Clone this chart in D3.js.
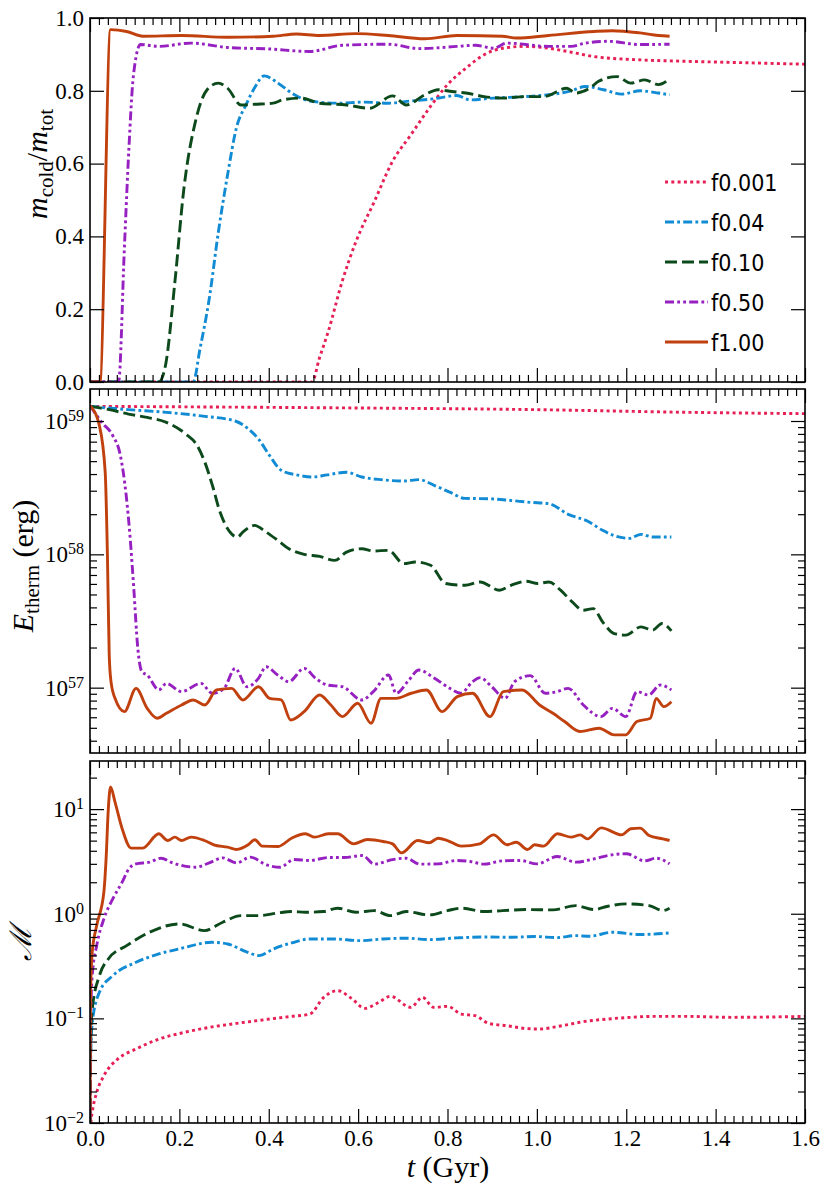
<!DOCTYPE html>
<html>
<head>
<meta charset="utf-8">
<script src="https://cdn.jsdelivr.net/npm/d3@7"></script>
<style>
  body { margin: 0; background: #fff; }
  svg { display: block; }
  .tick text { font-family: 'Liberation Serif', 'Times New Roman', serif; font-size: 23px; fill: #000; }
  .tick line { stroke: #000; stroke-width: 1.2; }
  .axlabel { font-family: 'Liberation Serif', 'Times New Roman', serif; font-size: 30px; fill: #000; }
  .legend text { font-family: 'DejaVu Sans Condensed', 'DejaVu Sans', sans-serif; font-stretch: condensed; font-size: 23px; fill: #000; }
</style>
</head>
<body>
<svg id="drawing_region"></svg>
<script>
// ---- data ----
const labels = ['f0.001', 'f0.04', 'f0.10', 'f0.50', 'f1.00'];
const t_ticks = [0, 0.2, 0.4, 0.6, 0.8, 1.0, 1.2, 1.4, 1.6];
const mcold_ticks = [0, 0.2, 0.4, 0.6, 0.8, 1.0];

// top panel: [t (Gyr), m_cold / m_tot]
const mcold_f0001 = [[0,0],[0.497,0],[0.513,0.064],[0.533,0.138],[0.564,0.275],[0.595,0.385],[0.636,0.495],[0.677,0.606],[0.718,0.679],[0.759,0.752],[0.800,0.817],[0.841,0.862],[0.882,0.899],[0.923,0.917],[0.974,0.922],[1.026,0.917],[1.077,0.906],[1.128,0.894],[1.231,0.885],[1.333,0.881],[1.436,0.878],[1.600,0.873]];
const mcold_f004 = [[0,0],[0.231,0],[0.246,0.09],[0.267,0.23],[0.287,0.41],[0.308,0.57],[0.328,0.70],[0.349,0.761],[0.369,0.81],[0.390,0.841],[0.421,0.821],[0.451,0.794],[0.492,0.772],[0.554,0.766],[0.615,0.769],[0.667,0.766],[0.718,0.772],[0.769,0.778],[0.821,0.787],[0.851,0.775],[0.903,0.780],[0.974,0.784],[1.026,0.789],[1.077,0.800],[1.108,0.812],[1.149,0.803],[1.190,0.791],[1.231,0.800],[1.272,0.794],[1.297,0.789]];
const mcold_f010 = [[0,0],[0.154,0],[0.169,0.046],[0.190,0.275],[0.210,0.53],[0.236,0.716],[0.262,0.803],[0.287,0.821],[0.308,0.807],[0.338,0.761],[0.369,0.763],[0.410,0.766],[0.431,0.775],[0.472,0.78],[0.513,0.766],[0.574,0.761],[0.626,0.752],[0.677,0.786],[0.708,0.761],[0.749,0.789],[0.779,0.803],[0.810,0.798],[0.841,0.794],[0.882,0.784],[0.923,0.780],[0.974,0.784],[1.015,0.784],[1.067,0.807],[1.087,0.794],[1.118,0.807],[1.138,0.826],[1.179,0.839],[1.210,0.821],[1.241,0.830],[1.272,0.817],[1.297,0.833]];
const mcold_f050 = [[0,0],[0.064,0],[0.077,0.37],[0.087,0.64],[0.097,0.84],[0.113,0.927],[0.154,0.922],[0.226,0.931],[0.308,0.919],[0.400,0.915],[0.492,0.908],[0.564,0.925],[0.667,0.928],[0.738,0.916],[0.821,0.922],[0.862,0.925],[0.903,0.917],[0.933,0.931],[1.026,0.922],[1.077,0.922],[1.108,0.931],[1.159,0.936],[1.231,0.927],[1.297,0.928]];
const mcold_f100 = [[0,0],[0.022,0],[0.046,0.968],[0.082,0.963],[0.118,0.950],[0.205,0.952],[0.308,0.947],[0.410,0.950],[0.462,0.956],[0.513,0.952],[0.595,0.957],[0.667,0.952],[0.749,0.943],[0.821,0.952],[0.923,0.950],[0.954,0.945],[1.026,0.952],[1.128,0.963],[1.169,0.965],[1.231,0.959],[1.272,0.952],[1.297,0.950]];

// middle panel: [t (Gyr), log10 E_therm (erg)]
const etherm_f0001 = [[0,59.11],[0.5,59.10],[1.0,59.085],[1.34,59.065],[1.6,59.055]];
const etherm_f004 = [[0,59.11],[0.086,59.085],[0.171,59.065],[0.257,59.035],[0.325,59.0],[0.351,58.95],[0.377,58.865],[0.402,58.74],[0.428,58.63],[0.462,58.596],[0.497,58.58],[0.531,58.596],[0.574,58.616],[0.608,58.58],[0.651,58.56],[0.702,58.55],[0.736,58.56],[0.771,58.516],[0.805,58.466],[0.839,58.42],[0.899,58.416],[0.942,58.404],[0.985,58.39],[1.027,58.38],[1.070,58.30],[1.113,58.25],[1.147,58.18],[1.173,58.14],[1.207,58.12],[1.233,58.15],[1.259,58.13],[1.301,58.13]];
const etherm_f010 = [[0,59.11],[0.043,59.085],[0.086,59.052],[0.128,59.027],[0.171,58.99],[0.214,58.903],[0.240,58.815],[0.257,58.691],[0.274,58.516],[0.291,58.317],[0.308,58.192],[0.330,58.130],[0.342,58.167],[0.368,58.217],[0.394,58.167],[0.420,58.105],[0.445,58.042],[0.479,58.0],[0.514,57.985],[0.548,57.955],[0.574,58.017],[0.608,58.042],[0.634,58.025],[0.668,58.030],[0.702,57.930],[0.728,57.943],[0.762,57.918],[0.796,57.781],[0.839,57.768],[0.873,57.793],[0.916,57.731],[0.942,57.768],[0.976,57.798],[1.002,57.781],[1.027,57.793],[1.053,57.731],[1.079,57.643],[1.104,57.581],[1.126,57.593],[1.147,57.494],[1.173,57.406],[1.199,57.394],[1.233,57.456],[1.259,57.431],[1.280,57.481],[1.301,57.426]];
const etherm_f050 = [[0,59.115],[0.026,58.99],[0.051,58.89],[0.068,58.741],[0.081,58.441],[0.090,58.117],[0.098,57.743],[0.107,57.294],[0.116,57.12],[0.128,57.095],[0.154,56.983],[0.171,57.032],[0.205,56.970],[0.248,57.032],[0.274,56.958],[0.300,56.995],[0.325,57.145],[0.351,57.007],[0.377,57.07],[0.394,57.157],[0.420,57.095],[0.445,57.045],[0.479,57.145],[0.505,57.07],[0.531,57.02],[0.565,57.007],[0.608,56.908],[0.634,56.970],[0.668,57.095],[0.685,56.958],[0.711,57.045],[0.736,57.132],[0.771,57.07],[0.805,56.995],[0.830,56.958],[0.856,57.045],[0.873,57.075],[0.899,57.007],[0.929,56.920],[0.950,57.045],[0.985,57.090],[1.019,56.958],[1.045,56.970],[1.070,56.995],[1.104,56.870],[1.143,56.783],[1.169,56.845],[1.199,56.783],[1.224,56.970],[1.250,56.945],[1.276,57.020],[1.301,56.983]];
const etherm_f100 = [[0,59.115],[0.021,58.965],[0.034,58.616],[0.039,57.993],[0.043,57.244],[0.047,57.045],[0.056,56.920],[0.077,56.820],[0.103,56.995],[0.128,56.845],[0.150,56.771],[0.171,56.808],[0.205,56.870],[0.231,56.908],[0.257,56.870],[0.283,56.983],[0.317,56.995],[0.342,56.908],[0.377,57.007],[0.402,56.920],[0.428,56.908],[0.449,56.758],[0.479,56.820],[0.514,56.945],[0.539,56.870],[0.565,56.783],[0.599,56.883],[0.629,56.733],[0.651,56.920],[0.685,56.920],[0.719,56.958],[0.753,56.983],[0.788,56.820],[0.822,56.933],[0.856,56.958],[0.895,56.783],[0.925,56.970],[0.967,56.983],[1.006,56.870],[1.036,56.808],[1.062,56.746],[1.096,56.671],[1.139,56.696],[1.173,56.646],[1.199,56.646],[1.224,56.746],[1.254,56.771],[1.267,56.920],[1.284,56.858],[1.301,56.895]];

// bottom panel: [t (Gyr), log10 Mach number]
const mach_f0001 = [[0,-2.3],[0.002,-2.0],[0.005,-1.898],[0.015,-1.708],[0.031,-1.549],[0.062,-1.389],[0.103,-1.293],[0.154,-1.198],[0.205,-1.140],[0.267,-1.086],[0.328,-1.048],[0.390,-1.013],[0.451,-0.981],[0.492,-0.959],[0.523,-0.799],[0.554,-0.735],[0.585,-0.809],[0.615,-0.904],[0.646,-0.847],[0.672,-0.789],[0.718,-0.895],[0.744,-0.799],[0.769,-0.895],[0.800,-0.885],[0.831,-0.959],[0.862,-0.974],[0.892,-1.048],[0.933,-1.070],[0.974,-1.096],[1.005,-1.102],[1.056,-1.070],[1.108,-1.029],[1.159,-1.006],[1.210,-0.990],[1.262,-0.981],[1.333,-0.981],[1.436,-0.990],[1.6,-0.981]];
const mach_f004 = [[0,-2.2],[0.001,-1.5],[0.005,-1.038],[0.021,-0.751],[0.051,-0.592],[0.103,-0.464],[0.154,-0.384],[0.205,-0.330],[0.272,-0.273],[0.308,-0.289],[0.349,-0.362],[0.379,-0.400],[0.410,-0.337],[0.451,-0.279],[0.492,-0.241],[0.544,-0.241],[0.605,-0.257],[0.656,-0.241],[0.708,-0.234],[0.759,-0.247],[0.821,-0.231],[0.882,-0.222],[0.944,-0.225],[0.995,-0.218],[1.046,-0.228],[1.087,-0.209],[1.118,-0.215],[1.169,-0.177],[1.231,-0.199],[1.297,-0.183]];
const mach_f010 = [[0,-2.2],[0.001,-1.3],[0.005,-0.911],[0.021,-0.592],[0.041,-0.432],[0.082,-0.305],[0.133,-0.177],[0.2,-0.097],[0.256,-0.161],[0.297,-0.081],[0.338,-0.018],[0.379,-0.018],[0.421,0.008],[0.451,0.021],[0.482,0.014],[0.523,0.021],[0.554,0.053],[0.595,0.014],[0.636,0.030],[0.672,-0.018],[0.708,0.021],[0.759,-0.011],[0.8,0.030],[0.831,0.053],[0.882,0.021],[0.923,0.030],[0.974,0.040],[1.036,0.037],[1.087,0.078],[1.128,0.040],[1.159,0.072],[1.2,0.094],[1.251,0.078],[1.282,0.030],[1.297,0.053]];
const mach_f050 = [[0,-2.2],[0.001,-1.1],[0.005,-0.592],[0.015,-0.305],[0.031,-0.049],[0.051,0.142],[0.072,0.302],[0.087,0.429],[0.103,0.477],[0.133,0.493],[0.159,0.531],[0.185,0.486],[0.236,0.445],[0.267,0.486],[0.297,0.534],[0.328,0.486],[0.359,0.541],[0.395,0.467],[0.426,0.445],[0.456,0.518],[0.492,0.509],[0.533,0.537],[0.569,0.537],[0.610,0.557],[0.636,0.474],[0.677,0.518],[0.708,0.531],[0.738,0.474],[0.779,0.477],[0.821,0.509],[0.851,0.499],[0.882,0.474],[0.923,0.506],[0.964,0.509],[1.0,0.477],[1.046,0.547],[1.087,0.493],[1.128,0.525],[1.159,0.557],[1.2,0.573],[1.241,0.506],[1.267,0.531],[1.297,0.477]];
const mach_f100 = [[0,-2.2],[0.001,-0.8],[0.005,-0.368],[0.015,-0.113],[0.031,0.206],[0.036,0.525],[0.041,1.003],[0.046,1.211],[0.056,1.067],[0.072,0.812],[0.092,0.627],[0.118,0.627],[0.154,0.764],[0.174,0.700],[0.190,0.732],[0.205,0.700],[0.226,0.732],[0.256,0.700],[0.277,0.659],[0.308,0.636],[0.328,0.614],[0.354,0.659],[0.369,0.707],[0.385,0.646],[0.421,0.643],[0.451,0.722],[0.482,0.764],[0.503,0.732],[0.533,0.764],[0.554,0.764],[0.590,0.668],[0.621,0.710],[0.656,0.691],[0.677,0.668],[0.697,0.582],[0.733,0.700],[0.759,0.678],[0.779,0.722],[0.800,0.700],[0.831,0.646],[0.872,0.668],[0.903,0.754],[0.933,0.659],[0.954,0.684],[0.979,0.614],[0.995,0.659],[1.015,0.646],[1.046,0.764],[1.077,0.732],[1.097,0.754],[1.113,0.716],[1.144,0.821],[1.190,0.754],[1.210,0.812],[1.231,0.818],[1.251,0.748],[1.282,0.716],[1.297,0.700]];

// ---- styles ----
const colors = ['#e61f55', '#118bd3', '#0c4a1c', '#9620c0', '#c0410e'];
const dashes = ['3,3.3', '9,3.2,2.8,3.2', '12,5', '9,3.2,2.8,3.2,2.8,3.2', null];

const config = {
  width: 830, height: 1195,
  left: 90, right: 805,
  panels: [
    { top: 18, bottom: 382, log: false, domain: [0, 1],
      series: [mcold_f0001, mcold_f004, mcold_f010, mcold_f050, mcold_f100] },
    { top: 389, bottom: 753, log: true, domain: [Math.pow(10, 56.51), Math.pow(10, 59.24)],
      series: [etherm_f0001, etherm_f004, etherm_f010, etherm_f050, etherm_f100] },
    { top: 761, bottom: 1123, log: true, domain: [0.01, Math.pow(10, 1.46)],
      series: [mach_f0001, mach_f004, mach_f010, mach_f050, mach_f100] }
  ]
};

const svg = d3.select('#drawing_region')
    .attr('width', config.width)
    .attr('height', config.height);

const xscale = d3.scaleLinear()
    .domain([0, 1.6])
    .range([config.left, config.right]);

const t_minor = d3.range(0, 81).map(i => i * 0.02).filter(v => Math.abs(v / 0.2 - Math.round(v / 0.2)) > 1e-6);

const isDecade = v => Math.abs(Math.log10(v) - Math.round(Math.log10(v))) < 1e-6;

const supLabel = function(d) {
  const e = Math.round(Math.log10(d));
  const s = d3.select(this);
  s.text(null);
  s.append('tspan').text('10');
  s.append('tspan').attr('dy', '-0.5em').attr('font-size', '16px')
      .text(e < 0 ? '\u2212' + (-e) : String(e));
};

const noDomain = g => g.select('.domain').remove();

config.panels.forEach((p, pi) => {
  const yscale = (p.log ? d3.scaleLog() : d3.scaleLinear())
      .domain(p.domain)
      .range([p.bottom, p.top]);

  let ymajor, yminor;
  if (p.log) {
    const all = yscale.ticks();
    ymajor = all.filter(isDecade);
    yminor = all.filter(v => !isDecade(v));
  } else {
    ymajor = mcold_ticks;
    yminor = [];
  }

  const clipId = 'clip' + pi;
  svg.append('clipPath').attr('id', clipId)
    .append('rect')
      .attr('x', config.left).attr('y', p.top)
      .attr('width', config.right - config.left)
      .attr('height', p.bottom - p.top);

  const line = d3.line()
      .x(d => xscale(d[0]))
      .y(d => yscale(d[1]))
      .curve(d3.curveMonotoneX);

  const chart = svg.append('g').attr('clip-path', `url(#${clipId})`);
  p.series.forEach((s, i) => {
    const data = p.log ? s.map(d => [d[0], Math.pow(10, d[1])]) : s;
    chart.append('path')
        .datum(data)
        .attr('d', line)
        .attr('fill', 'none')
        .attr('stroke', colors[i])
        .attr('stroke-width', 2.9)
        .attr('stroke-linejoin', 'round')
        .attr('stroke-dasharray', dashes[i]);
  });

  // ticks, pointing inward on all four sides
  const lastPanel = pi === config.panels.length - 1;
  svg.append('g')
      .attr('transform', `translate(0, ${p.bottom})`)
      .call(d3.axisBottom(xscale).tickValues(t_ticks).tickSize(-14).tickPadding(7)
          .tickFormat(lastPanel ? d3.format('.1f') : ''))
      .call(noDomain);
  svg.append('g')
      .attr('transform', `translate(0, ${p.bottom})`)
      .call(d3.axisBottom(xscale).tickValues(t_minor).tickSize(-7).tickFormat(''))
      .call(noDomain);
  svg.append('g')
      .attr('transform', `translate(0, ${p.top})`)
      .call(d3.axisTop(xscale).tickValues(t_ticks).tickSize(-14).tickFormat(''))
      .call(noDomain);
  svg.append('g')
      .attr('transform', `translate(0, ${p.top})`)
      .call(d3.axisTop(xscale).tickValues(t_minor).tickSize(-7).tickFormat(''))
      .call(noDomain);

  const left = svg.append('g')
      .attr('transform', `translate(${config.left}, 0)`)
      .call(d3.axisLeft(yscale).tickValues(ymajor).tickSize(-14).tickPadding(6)
          .tickFormat(p.log ? (d => '') : d3.format('.1f')))
      .call(noDomain);
  if (p.log) left.selectAll('.tick text').each(supLabel);
  svg.append('g')
      .attr('transform', `translate(${config.right}, 0)`)
      .call(d3.axisRight(yscale).tickValues(ymajor).tickSize(-14).tickFormat(''))
      .call(noDomain);
  if (yminor.length) {
    svg.append('g')
        .attr('transform', `translate(${config.left}, 0)`)
        .call(d3.axisLeft(yscale).tickValues(yminor).tickSize(-7).tickFormat(''))
        .call(noDomain);
    svg.append('g')
        .attr('transform', `translate(${config.right}, 0)`)
        .call(d3.axisRight(yscale).tickValues(yminor).tickSize(-7).tickFormat(''))
        .call(noDomain);
  }

  svg.append('rect')
      .attr('x', config.left).attr('y', p.top)
      .attr('width', config.right - config.left)
      .attr('height', p.bottom - p.top)
      .attr('fill', 'none')
      .attr('stroke', '#000')
      .attr('stroke-width', 1.6);
});

// axis labels
const ylab1 = svg.append('text').attr('class', 'axlabel')
    .attr('text-anchor', 'middle')
    .attr('transform', 'translate(47, 164) rotate(-90)');
ylab1.append('tspan').attr('font-style', 'italic').text('m');
ylab1.append('tspan').attr('font-size', '21px').attr('dy', 6).text('cold');
ylab1.append('tspan').attr('dy', -6).text('/');
ylab1.append('tspan').attr('font-style', 'italic').text('m');
ylab1.append('tspan').attr('font-size', '21px').attr('dy', 6).text('tot');

const ylab2 = svg.append('text').attr('class', 'axlabel')
    .attr('text-anchor', 'middle')
    .attr('transform', 'translate(33, 566) rotate(-90)');
ylab2.append('tspan').attr('font-style', 'italic').text('E');
ylab2.append('tspan').attr('font-size', '21px').attr('dy', 6).text('therm');
ylab2.append('tspan').attr('dy', -6).text('\u00a0(erg)');

svg.append('text').attr('class', 'axlabel')
    .attr('text-anchor', 'middle')
    .attr('font-family', "'DejaVu Serif', serif")
    .attr('font-style', 'italic')
    .attr('transform', 'translate(31, 943) rotate(-90)')
    .text('\u2133');

const xlab = svg.append('text').attr('class', 'axlabel')
    .attr('text-anchor', 'middle')
    .attr('font-size', '28px')
    .attr('x', 448).attr('y', 1177);
xlab.append('tspan').attr('font-style', 'italic').text('t');
xlab.append('tspan').text('\u00a0(Gyr)');

// legend in the top panel
const legend = svg.append('g').attr('class', 'legend');
labels.forEach((lab, i) => {
  const ly = 182 + i * 40;
  legend.append('line')
      .attr('x1', 665).attr('x2', 708)
      .attr('y1', ly).attr('y2', ly)
      .attr('stroke', colors[i])
      .attr('stroke-width', 2.9)
      .attr('stroke-dasharray', dashes[i]);
  legend.append('text')
      .attr('x', 711).attr('y', ly + 8.5)
      .text(lab);
});
</script>
</body>
</html>
